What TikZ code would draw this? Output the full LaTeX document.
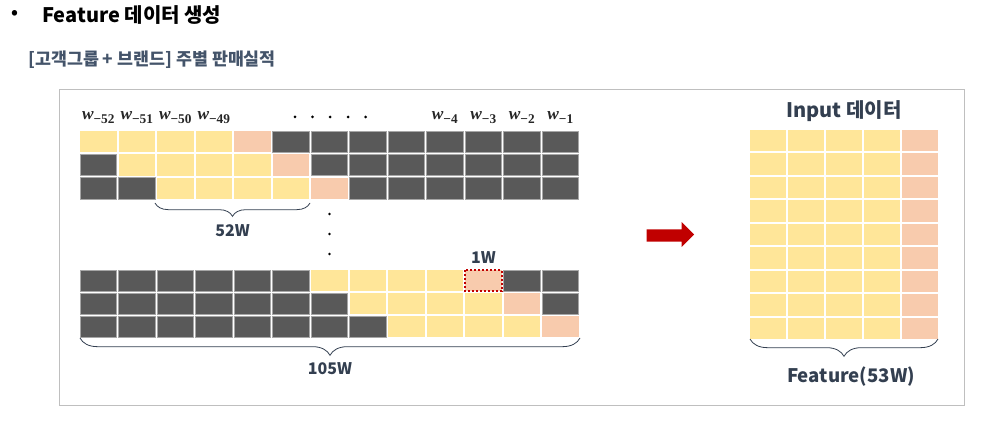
\documentclass[tikz,border=0pt]{standalone}
\usepackage{fontspec}
\setmainfont{Noto Sans CJK KR}
\newfontfamily\wfont{Liberation Serif}
\usetikzlibrary{decorations.pathreplacing}

\definecolor{cellyellow}{HTML}{FFE699}
\definecolor{cellpink}{HTML}{F8CBAD}
\definecolor{celldark}{HTML}{595959}
\definecolor{cellrim}{HTML}{A6A6A6}
\definecolor{textblue}{HTML}{333F50}
\definecolor{subblue}{HTML}{44546A}
\definecolor{arrowred}{HTML}{C00000}
\definecolor{framegray}{HTML}{BFBFBF}

% week label w_{-n}
\newcommand{\wlab}[1]{{\itshape w}\raisebox{-0.5ex}{\fontsize{10}{10}\selectfont −#1}}

\begin{document}
\begin{tikzpicture}[
			x=0.75pt, y=-0.75pt,
			yl/.style = {fill=cellyellow},
			pk/.style = {fill=cellpink},
			dk/.style = {fill=celldark, draw=cellrim, line width=0.5pt},
			lbl/.style = {font=\bfseries\fontsize{12}{14}\selectfont, text=textblue, inner sep=0pt},
			wk/.style = {text=black!85, inner sep=0pt, font=\wfont\bfseries\fontsize{13}{14}\selectfont},
			brc/.style = {draw=textblue, line width=0.6pt, decorate, decoration={brace, mirror, amplitude=#1}}
		]
		\useasboundingbox (0,0) rectangle (988,423);
		% Title.
		\node[anchor=west, inner sep=0pt, font=\bfseries\fontsize{13}{16}\selectfont] (bullet) at (11,15) {•};
		\node[anchor=west, inner sep=0pt, font=\bfseries\fontsize{15}{17}\selectfont] (title) at (42,15) {Feature 데이터 생성};
		\node[anchor=west, inner sep=0pt, text=subblue, font=\bfseries\fontsize{13}{15}\selectfont] (sub) at (28,60) {[고객그룹 + 브랜드] 주별 판매실적};
		\draw[framegray, line width=0.75pt] (59.5,90) rectangle (964.5,405.7);

		% Upper block.
		\foreach \row [count=\r from 0] in {
				{yl,yl,yl,yl,pk,dk,dk,dk,dk,dk,dk,dk,dk},
				{dk,yl,yl,yl,yl,pk,dk,dk,dk,dk,dk,dk,dk},
				{dk,dk,yl,yl,yl,yl,pk,dk,dk,dk,dk,dk,dk}}
			\foreach \c [count=\i from 0] in \row
				\path[\c] ({80+38.5*\i},{131+23.3*\r}) rectangle ++(36.5,21.5);
		\foreach \n/\i in {52/0,51/1,50/2,49/3,4/9,3/10,2/11,1/12}
			\node[wk] (w\n) at ({98.25+38.5*\i},118) {\wlab{\n}};
		\foreach \x in {295,312.5,330,348,365.5}
			\fill (\x,117) circle (1.5);
		\draw[brc=10pt] (155,203) -- (310,203);
		\node[lbl] (w52) at (232.5,231) {52W};
		\foreach \y in {214,234,254}
			\fill (329.5,\y) circle (1.4);

		% Lower block.
		\foreach \row [count=\r from 0] in {
				{dk,dk,dk,dk,dk,dk,yl,yl,yl,yl,pk,dk,dk},
				{dk,dk,dk,dk,dk,dk,dk,yl,yl,yl,yl,pk,dk},
				{dk,dk,dk,dk,dk,dk,dk,dk,yl,yl,yl,yl,pk}}
			\foreach \c [count=\i from 0] in \row
				\path[\c] ({80+38.5*\i},{270.5+23*\r}) rectangle ++(36.5,21);
		\draw[arrowred, line width=1.5pt, dash pattern=on 1.5pt off 1.5pt] (465,270.5) rectangle ++(36.5,21);
		\node[lbl] (w1) at (483.5,258) {1W};
		\draw[brc=13pt] (80,338) -- (580,338);
		\node[lbl] (w105) at (330,369) {105W};

		% Arrow.
		\fill[arrowred] (646.7,229.3) -- (681.5,229.3) -- (681.5,222) -- (694,234.5)
			-- (681.5,247) -- (681.5,241.7) -- (646.7,241.7) -- cycle;

		% Input data.
		\node[lbl, font=\bfseries\fontsize{15}{17}\selectfont] (input) at (844,111) {Input 데이터};
		\foreach \r in {0,...,8}
			\foreach \c [count=\i from 0] in {yl,yl,yl,yl,pk}
				\path[\c] ({750+38.1*\i},{130+23.5*\r}) rectangle ++(36,21.5);
		\draw[brc=13pt] (750,339) -- (938,339);
		\node[lbl, font=\bfseries\fontsize{14}{16}\selectfont] (feat) at (851,377) {Feature(53W)};
	\end{tikzpicture}
\end{document}
